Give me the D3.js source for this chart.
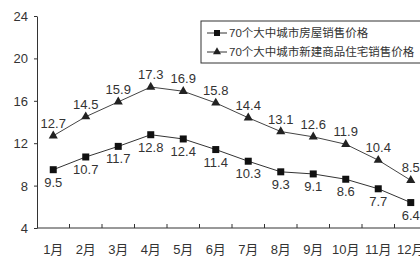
<!DOCTYPE html>
<html lang="zh">
<head>
<meta charset="UTF-8">
<title>70个大中城市房屋销售价格</title>
<script src="https://d3js.org/d3.v7.min.js"></script>
<style>
    body { margin: 0; background: #fff; }
    svg { display: block; font-family: "Liberation Sans Narrow", "Arial Narrow", "Liberation Sans", "Noto Sans CJK SC", sans-serif; }
    .axis path, .axis line { stroke: #333; }
    .axis text { font-size: 13px; fill: #333; }
</style>
</head>
<body>
<div id="chart"></div>
<script>
    const months = ["1月", "2月", "3月", "4月", "5月", "6月", "7月", "8月", "9月", "10月", "11月", "12月"];
    const housePrice = [9.5, 10.7, 11.7, 12.8, 12.4, 11.4, 10.3, 9.3, 9.1, 8.6, 7.7, 6.4];
    const newHomePrice = [12.7, 14.5, 15.9, 17.3, 16.9, 15.8, 14.4, 13.1, 12.6, 11.9, 10.4, 8.5];
    const yTicks = [4, 8, 12, 16, 20, 24];
    const seriesNames = ["70个大中城市房屋销售价格", "70个大中城市新建商品住宅销售价格"];

    const width = 420, height = 257;
    const margin = { left: 37, top: 16, bottom: 29 };
    const band = 32.5;

    const svg = d3.select("#chart").append("svg")
        .attr("width", width)
        .attr("height", height);

    const x = d3.scaleBand()
        .domain(months)
        .range([margin.left, margin.left + band * months.length]);

    const y = d3.scaleLinear()
        .domain([4, 24])
        .range([height - margin.bottom, margin.top]);

    // y axis
    svg.append("g")
        .attr("class", "axis")
        .attr("transform", `translate(${margin.left},0)`)
        .call(d3.axisLeft(y).tickValues(yTicks).tickSize(3).tickSizeOuter(0).tickPadding(6))
        .call(g => g.selectAll("text").attr("dy", "0.35em"));

    // x axis, ticks between categories pointing up
    const xAxis = svg.append("g")
        .attr("class", "axis")
        .attr("transform", `translate(0,${y(4)})`);
    xAxis.append("line")
        .attr("x1", x.range()[0]).attr("x2", x.range()[1])
        .attr("stroke", "#333");
    xAxis.selectAll(".tk")
        .data(months.slice(1))
        .join("line")
        .attr("class", "tk")
        .attr("x1", d => x(d)).attr("x2", d => x(d))
        .attr("y1", 0).attr("y2", -4)
        .attr("stroke", "#333");
    xAxis.selectAll("text")
        .data(months)
        .join("text")
        .attr("x", d => x(d) + x.bandwidth() / 2)
        .attr("y", 26)
        .attr("text-anchor", "middle")
        .text(d => d);

    const line = d3.line()
        .x((d, i) => x(months[i]) + x.bandwidth() / 2)
        .y(d => y(d));

    // series 1: squares
    svg.append("path")
        .datum(housePrice)
        .attr("d", line)
        .attr("fill", "none")
        .attr("stroke", "#333")
        .attr("stroke-width", 1);
    svg.selectAll(".sq")
        .data(housePrice)
        .join("rect")
        .attr("class", "sq")
        .attr("x", (d, i) => x(months[i]) + x.bandwidth() / 2 - 3.5)
        .attr("y", d => y(d) - 3.5)
        .attr("width", 7).attr("height", 7)
        .attr("fill", "#111");
    svg.selectAll(".lab1")
        .data(housePrice)
        .join("text")
        .attr("class", "lab1")
        .attr("x", (d, i) => x(months[i]) + x.bandwidth() / 2)
        .attr("y", d => y(d) + 17)
        .attr("text-anchor", "middle")
        .attr("font-size", 13)
        .attr("fill", "#333")
        .text(d => d.toFixed(1));

    // series 2: triangles
    svg.append("path")
        .datum(newHomePrice)
        .attr("d", line)
        .attr("fill", "none")
        .attr("stroke", "#444")
        .attr("stroke-width", 1);
    svg.selectAll(".tri")
        .data(newHomePrice)
        .join("path")
        .attr("class", "tri")
        .attr("transform", (d, i) => `translate(${x(months[i]) + x.bandwidth() / 2},${y(d)})`)
        .attr("d", d3.symbol(d3.symbolTriangle, 36))
        .attr("fill", "#222");
    svg.selectAll(".lab2")
        .data(newHomePrice)
        .join("text")
        .attr("class", "lab2")
        .attr("x", (d, i) => x(months[i]) + x.bandwidth() / 2)
        .attr("y", d => y(d) - 8)
        .attr("text-anchor", "middle")
        .attr("font-size", 13)
        .attr("fill", "#333")
        .text(d => d.toFixed(1));

    // legend
    const legend = svg.append("g").attr("transform", "translate(201,21)");
    legend.append("rect")
        .attr("width", 230).attr("height", 42)
        .attr("fill", "#fff")
        .attr("stroke", "#333");
    seriesNames.forEach((name, i) => {
        const row = legend.append("g").attr("transform", `translate(6,${12 + i * 19})`);
        row.append("line").attr("x1", 0).attr("x2", 20).attr("stroke", "#333");
        if (i === 0) {
            row.append("rect").attr("x", 7).attr("y", -3).attr("width", 6).attr("height", 6).attr("fill", "#111");
        } else {
            row.append("path").attr("transform", "translate(10,0)")
                .attr("d", d3.symbol(d3.symbolTriangle, 28)).attr("fill", "#222");
        }
        row.append("text")
            .attr("x", 22).attr("dy", "0.35em")
            .attr("font-size", 11.5)
            .attr("fill", "#333")
            .text(name);
    });
</script>
</body>
</html>
